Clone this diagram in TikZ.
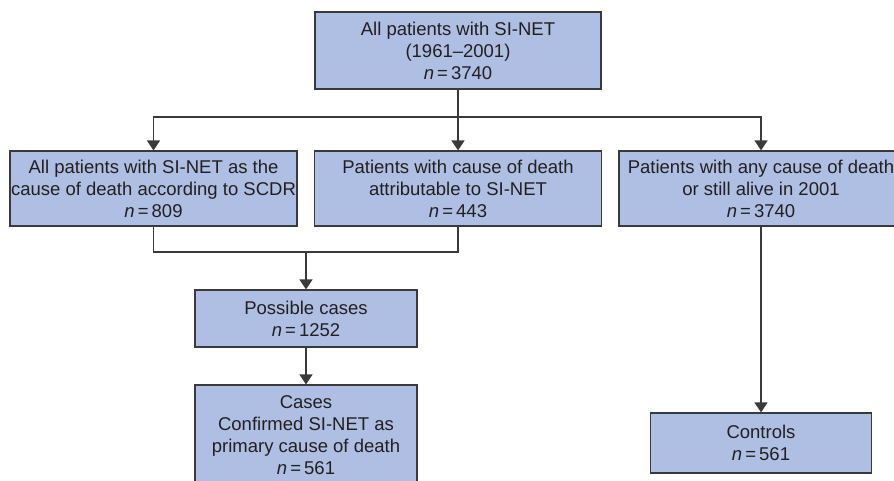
\documentclass[tikz,border=0pt]{standalone}
\usepackage{fontspec}
\setmainfont{Liberation Sans}
\usetikzlibrary{arrows.meta}
\definecolor{boxfill}{HTML}{AEBFE3}
\definecolor{boxline}{HTML}{3A3A3A}
\definecolor{txt}{HTML}{231F20}
\begin{document}
\begin{tikzpicture}[x=1pt,y=-1pt,
  box/.style={draw=boxline, fill=boxfill, line width=1.2pt, text=txt, align=center, inner sep=0pt, font=\fontsize{18.5}{22}\selectfont},
  conn/.style={draw=boxline, line width=1.3pt},
  arr/.style={conn, -{Triangle[width=13pt,length=10pt]}}]
\useasboundingbox (0,0) rectangle (894,481);
\clip (0,0) rectangle (894,481);
\node[box, minimum width=286pt, minimum height=77pt] (top) at (458,50.5) {All patients with SI-NET\\(1961–2001)\\\textit{n}\,=\,3740};
\node[box, minimum width=287pt, minimum height=75pt] (A) at (153.5,188.5) {All patients with SI-NET as the\\cause of death according to SCDR\\\textit{n}\,=\,809};
\node[box, minimum width=287pt, minimum height=75pt] (B) at (458,188.5) {Patients with cause of death\\attributable to SI-NET\\\textit{n}\,=\,443};
\node[box, minimum width=284pt, minimum height=75pt] (C) at (761,188.5) {Patients with any cause of death\\or still alive in 2001\\\textit{n}\,=\,3740};
\node[box, minimum width=222pt, minimum height=57pt] (poss) at (306,318.5) {Possible cases\\\textit{n}\,=\,1252};
\node[box, minimum width=222pt, minimum height=100pt] (cases) at (306,435) {Cases\\Confirmed SI-NET as\\primary cause of death\\\textit{n}\,=\,561};
\node[box, minimum width=221pt, minimum height=60pt] (ctrl) at (761,443) {Controls\\\textit{n}\,=\,561};
\coordinate (j1) at (458,117);
\coordinate (j2) at (306,252);
\draw[arr] (top.south) -- (B.north);
\draw[arr] (j1) -| (A.north);
\draw[arr] (j1) -| (C.north);
\draw[conn] (A.south) |- (j2) -| (B.south);
\draw[arr] (j2) -- (poss.north);
\draw[arr] (poss.south) -- (cases.north);
\draw[arr] (C.south) -- (ctrl.north);
\end{tikzpicture}
\end{document}
